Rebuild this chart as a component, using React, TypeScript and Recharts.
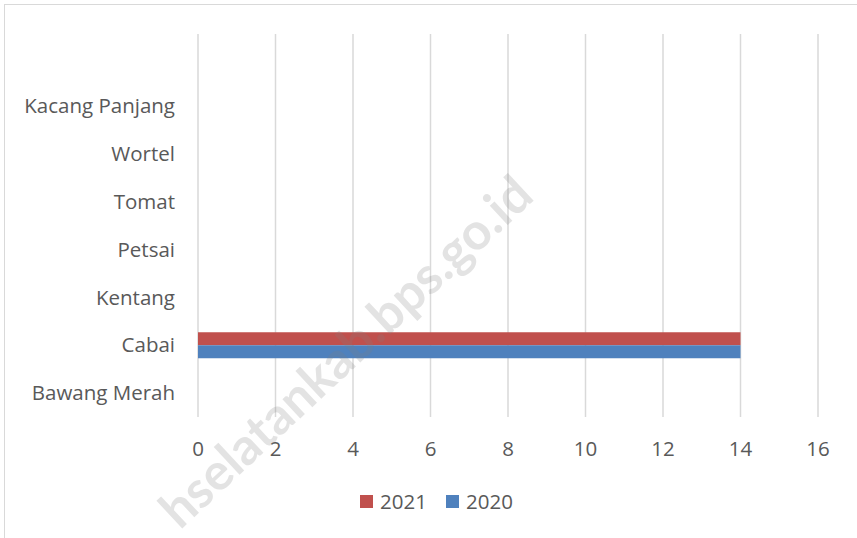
import React from 'react'
import {
  BarChart,
  Bar,
  XAxis,
  YAxis,
  CartesianGrid,
  Legend,
} from 'recharts'

// top row has no label in the source chart
const categories = ['', 'Kacang Panjang', 'Wortel', 'Tomat', 'Petsai', 'Kentang', 'Cabai', 'Bawang Merah']
const values2021 = [0, 0, 0, 0, 0, 0, 14, 0]
const values2020 = [0, 0, 0, 0, 0, 0, 14, 0]
const xTicks = [0, 2, 4, 6, 8, 10, 12, 14, 16]
const legendOrder = ['2021', '2020']

const data = categories.map((name, i) => ({
  name,
  y2021: values2021[i],
  y2020: values2020[i],
}))

const FONT = '"Open Sans", Lato, sans-serif'
const TEXT = '#595959'
const RED = '#C0504D'
const BLUE = '#4F81BD'

function LegendBox({ payload }: any) {
  const items = [...(payload || [])].sort(
    (a: any, b: any) => legendOrder.indexOf(a.value) - legendOrder.indexOf(b.value)
  )
  return (
    <div style={{ display: 'flex', justifyContent: 'center', alignItems: 'center', gap: 19, height: 30, paddingLeft: 16 }}>
      {items.map((p: any) => (
        <span key={p.value} style={{ display: 'flex', alignItems: 'center', gap: 7, fontFamily: FONT, fontSize: 20.5, color: TEXT }}>
          <span style={{ width: 13, height: 13, backgroundColor: p.color, display: 'inline-block' }} />
          {p.value}
        </span>
      ))}
    </div>
  )
}

export default function App() {
  return (
    <div style={{
      position: 'fixed',
      top: 0,
      left: 0,
      width: 857,
      height: 538,
      overflow: 'hidden',
      backgroundColor: '#fff',
    }}>
      {/* chart frame, runs off the right and bottom edge */}
      <div style={{
        position: 'absolute',
        left: 4,
        top: 4,
        width: 900,
        height: 600,
        border: '1.5px solid #D9D9D9',
      }} />

      <BarChart
        width={857}
        height={538}
        data={data}
        layout="vertical"
        margin={{ top: 34, right: 39, left: 0, bottom: 51 }}
        barCategoryGap="23%"
        barGap={0}
      >
        <CartesianGrid horizontal={false} stroke="#D9D9D9" strokeWidth={1.5} />
        <XAxis
          type="number"
          domain={[0, 16]}
          ticks={xTicks}
          height={40}
          axisLine={false}
          tickLine={false}
          tickMargin={18}
          tick={{ fontFamily: FONT, fontSize: 20.5, fill: TEXT }}
        />
        <YAxis
          type="category"
          dataKey="name"
          width={198}
          axisLine={false}
          tickLine={false}
          tickMargin={17}
          interval={0}
          tick={{ fontFamily: FONT, fontSize: 20.5, fill: TEXT }}
        />
        <Legend
          content={<LegendBox />}
          wrapperStyle={{ top: 486, bottom: 'auto', left: 0, width: 857 }}
        />
        <Bar dataKey="y2021" name="2021" fill={RED} isAnimationActive={false} />
        <Bar dataKey="y2020" name="2020" fill={BLUE} isAnimationActive={false} />
      </BarChart>

      {/* watermark */}
      <svg width={857} height={538} style={{ position: 'absolute', top: 0, left: 0, pointerEvents: 'none' }}>
        <text
          x={349}
          y={355}
          transform="rotate(-43 349 355)"
          textAnchor="middle"
          dominantBaseline="middle"
          fontFamily="Lato, sans-serif"
          fontWeight={700}
          fontSize={51}
          fill="#808080"
          fillOpacity={0.22}
        >
          hselatankab.bps.go.id
        </text>
      </svg>
    </div>
  )
}
